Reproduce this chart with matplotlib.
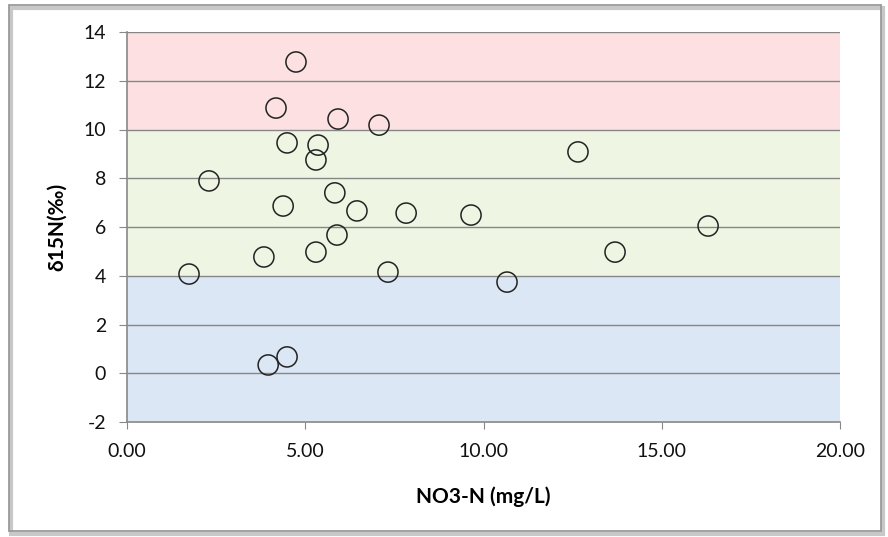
import matplotlib.pyplot as plt
from matplotlib.patches import Rectangle

plt.rcParams['font.family'] = ['Lato', 'DejaVu Sans']
plt.rcParams['axes.unicode_minus'] = False

# NO3-N (mg/L) vs d15N (permil)
no3_n = [1.74, 2.30, 3.84, 3.96, 4.18, 4.38, 4.49, 4.49, 4.74, 5.30, 5.30, 5.36,
         5.83, 5.89, 5.92, 6.45, 7.07, 7.32, 7.83, 9.65, 10.66, 12.65, 13.69, 16.30]
d15n = [4.07, 7.89, 4.77, 0.34, 10.88, 6.86, 9.45, 0.67, 12.77, 4.97, 8.75, 9.36,
        7.40, 5.67, 10.43, 6.66, 10.18, 4.15, 6.57, 6.49, 3.74, 9.08, 4.97, 6.04]

bands = [(-2, 4, '#dbe7f4'), (4, 10, '#eef6e3'), (10, 14, '#fde1e2')]
x_ticks = [0, 5, 10, 15, 20]
y_ticks = [-2, 0, 2, 4, 6, 8, 10, 12, 14]

fig = plt.figure(figsize=(8.88, 5.37), dpi=100)
# outer chart frame with a light shadow
fig.patches.append(Rectangle((11 / 888, 3 / 537), 872 / 888, 526 / 537,
                             transform=fig.transFigure, fill=False,
                             edgecolor='#c8c8c8', linewidth=3))
fig.patches.append(Rectangle((9 / 888, 6 / 537), 872 / 888, 526 / 537,
                             transform=fig.transFigure, fill=False,
                             edgecolor='#9a9a9a', linewidth=1.3))
ax = fig.add_axes([127 / 888, 1 - 422 / 537, 713 / 888, 390 / 537])

for lo, hi, c in bands:
    ax.axhspan(lo, hi, color=c, zorder=0, linewidth=0)
for y in y_ticks[1:]:
    ax.axhline(y, color='#868686', linewidth=1.0, zorder=1)

ax.scatter(no3_n, d15n, s=14.5 ** 2, facecolors='none', edgecolors='#222222',
           linewidths=1.1, zorder=3)

ax.set_xlim(0, 20)
ax.set_ylim(-2, 14)
ax.set_xticks(x_ticks)
ax.set_xticklabels([f'{v:.2f}' for v in x_ticks])
ax.set_yticks(y_ticks)
for s in ['top', 'right']:
    ax.spines[s].set_visible(False)
for s in ['left', 'bottom']:
    ax.spines[s].set_color('#888888')
    ax.spines[s].set_linewidth(1.2)
ax.tick_params(direction='out', length=6, color='#888888', labelsize=14,
               labelcolor='#111111', pad=9)
ax.tick_params(axis='x', length=5, pad=10)

ax.set_xlabel('NO3-N (mg/L)', fontsize=15, fontweight='bold', labelpad=19)
ax.set_ylabel('δ15N(‰)', fontsize=15, fontweight='bold', labelpad=12)

fig.savefig('out.png', dpi=100)
